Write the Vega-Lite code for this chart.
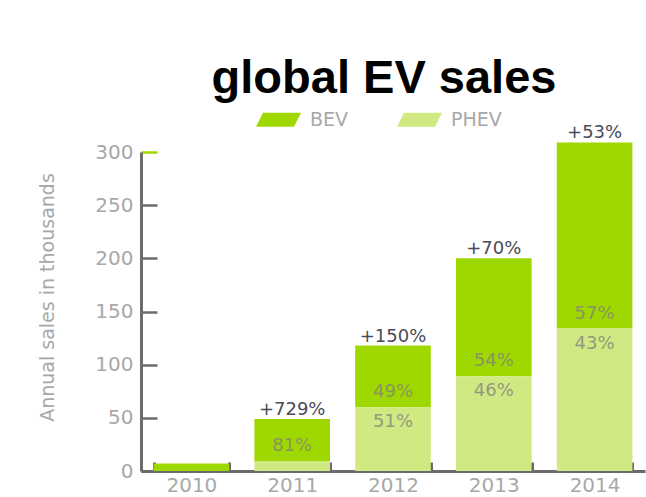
{
  "$schema": "https://vega.github.io/schema/vega-lite/v6.json",
  "width": 504,
  "height": 319,
  "autosize": {"type": "none"},
  "padding": {"left": 141, "top": 152, "right": 1, "bottom": 26},
  "background": "white",
  "title": {
    "text": "global EV sales",
    "font": "Liberation Sans",
    "fontSize": 47,
    "fontWeight": "bold",
    "color": "#000000",
    "anchor": "middle",
    "dx": -9,
    "offset": -6
  },
  "config": {
    "view": {"stroke": null},
    "axis": {
      "labelFont": "DejaVu Sans",
      "labelFontSize": 20,
      "labelColor": "#a8a8a8",
      "domainColor": "#6b6b6b",
      "domainWidth": 3,
      "grid": false
    }
  },
  "data": {
    "values": [
      {"year": "2010", "type": "BEV", "value": 7, "share": null, "growth": null},
      {"year": "2011", "type": "BEV", "value": 40, "share": "81%", "growth": "+729%"},
      {"year": "2011", "type": "PHEV", "value": 9, "share": null, "growth": null},
      {"year": "2012", "type": "BEV", "value": 58, "share": "49%", "growth": "+150%"},
      {"year": "2012", "type": "PHEV", "value": 60, "share": "51%", "growth": null},
      {"year": "2013", "type": "BEV", "value": 111, "share": "54%", "growth": "+70%"},
      {"year": "2013", "type": "PHEV", "value": 89, "share": "46%", "growth": null},
      {"year": "2014", "type": "BEV", "value": 175, "share": "57%", "growth": "+53%"},
      {"year": "2014", "type": "PHEV", "value": 134, "share": "43%", "growth": null}
    ]
  },
  "transform": [
    {"stack": "value", "groupby": ["year"], "sort": [{"field": "type", "order": "descending"}], "as": ["v0", "v1"]}
  ],
  "encoding": {
    "x": {
      "field": "year",
      "type": "ordinal",
      "scale": {"paddingInner": 0.25, "paddingOuter": 0.125},
      "axis": {
        "title": null,
        "labelAngle": 0,
        "tickBand": "extent",
        "tickSize": -9,
        "tickWidth": 3,
        "tickColor": "#6b6b6b",
        "labelPadding": 13
      }
    }
  },
  "layer": [
    {
      "mark": {"type": "bar"},
      "encoding": {
        "y": {
          "field": "v1",
          "type": "quantitative",
          "scale": {"domain": [0, 300], "nice": false},
          "axis": {
            "title": "Annual sales in thousands",
            "values": [0, 50, 100, 150, 200, 250, 300],
            "tickColor": {"condition": {"test": "datum.value === 300", "value": "#9fd800"}, "value": "#6b6b6b"},
            "tickWidth": 2.5,
            "tickSize": -16,
            "labelPadding": 24,
            "titleFont": "DejaVu Sans",
            "titleFontSize": 19,
            "titleFontWeight": "normal",
            "titleColor": "#a8a8a8",
            "titleX": -84,
            "titleY": 145
          }
        },
        "y2": {"field": "v0"},
        "color": {
          "field": "type",
          "type": "nominal",
          "scale": {"domain": ["BEV", "PHEV"], "range": ["#9fd800", "#d0e982"]},
          "legend": {
            "title": null,
            "orient": "none",
            "legendX": 115,
            "legendY": -55,
            "direction": "horizontal",
            "symbolType": "M -0.69 -0.31 L 1 -0.31 L 0.69 0.31 L -1 0.31 Z",
            "symbolSize": 2025,
            "symbolStrokeWidth": 0,
            "symbolOpacity": 1,
            "labelFont": "DejaVu Sans",
            "labelFontSize": 19,
            "labelColor": "#a8a8a8",
            "labelOffset": 9,
            "columnPadding": 48
          }
        }
      }
    },
    {
      "transform": [{"filter": "datum.type === 'BEV' && datum.share != null"}],
      "mark": {"type": "text", "font": "DejaVu Sans", "fontSize": 18, "color": "#7f7f7f", "opacity": 0.75, "dy": -15, "baseline": "middle"},
      "encoding": {
        "y": {"field": "v0", "type": "quantitative"},
        "text": {"field": "share"}
      }
    },
    {
      "transform": [{"filter": "datum.type === 'PHEV' && datum.share != null"}],
      "mark": {"type": "text", "font": "DejaVu Sans", "fontSize": 18, "color": "#7f7f7f", "opacity": 0.75, "dy": 15, "baseline": "middle"},
      "encoding": {
        "y": {"field": "v1", "type": "quantitative"},
        "text": {"field": "share"}
      }
    },
    {
      "transform": [{"filter": "datum.growth != null"}],
      "mark": {"type": "text", "font": "DejaVu Sans", "fontSize": 18, "color": "#4a4a58", "dy": -4, "baseline": "alphabetic"},
      "encoding": {
        "y": {"field": "v1", "type": "quantitative"},
        "text": {"field": "growth"}
      }
    }
  ]
}
